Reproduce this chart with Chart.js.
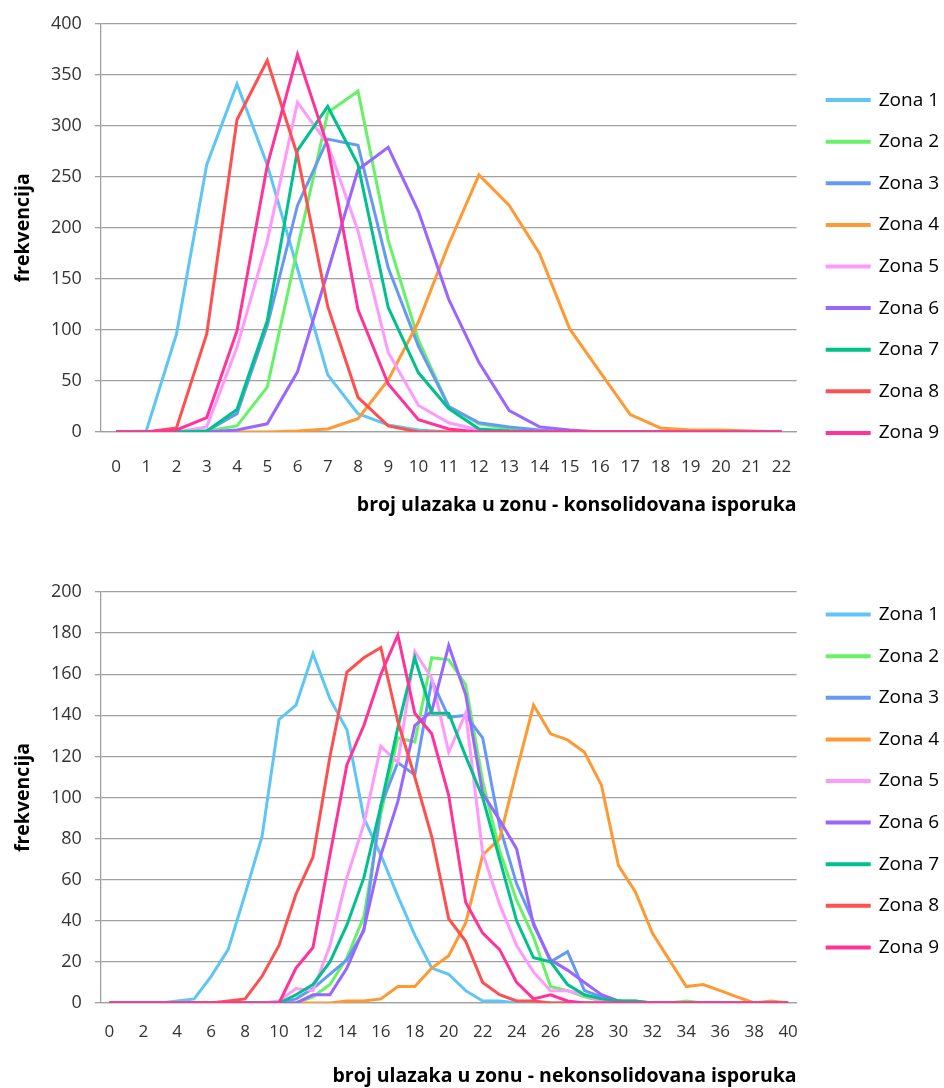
<!DOCTYPE html>
<html lang="sr">
<head>
<meta charset="utf-8">
<title>Frekvencija ulazaka u zone</title>
<script src="https://cdn.jsdelivr.net/npm/chart.js@4.4.1/dist/chart.umd.min.js"></script>
<style>
  html, body { margin: 0; padding: 0; background: #fff; }
  body { width: 944px; height: 1088px; position: relative; overflow: hidden; }
  .okvir { position: absolute; left: 0; width: 944px; }
  #okvirGore { top: 0; height: 533px; }
  #okvirDole { top: 560px; height: 528px; }
</style>
</head>
<body>
<div class="okvir" id="okvirGore"><canvas id="chartGore"></canvas></div>
<div class="okvir" id="okvirDole"><canvas id="chartDole"></canvas></div>
<script>
// Nazivi zona i boje linija
const nazivi = ['Zona 1', 'Zona 2', 'Zona 3', 'Zona 4', 'Zona 5', 'Zona 6', 'Zona 7', 'Zona 8', 'Zona 9'];
const boje = ['#5EC6F6', '#66F266', '#6699F5', '#FF9933', '#FF99FF', '#9966FF', '#00C08B', '#FF5050', '#FF3399'];

// Gornji grafikon - konsolidovana isporuka (0..22)
const kategorijeGore = [0, 1, 2, 3, 4, 5, 6, 7, 8, 9, 10, 11, 12, 13, 14, 15, 16, 17, 18, 19, 20, 21, 22];
const zona1Gore = [0, 1, 96, 262, 341, 262, 160, 56, 18, 7, 2, 0, 0, 0, 0, 0, 0, 0, 0, 0, 0, 0, 0];
const zona2Gore = [0, 0, 0, 1, 6, 44, 180, 313, 334, 188, 90, 25, 8, 3, 1, 0, 0, 0, 0, 0, 0, 0, 0];
const zona3Gore = [0, 0, 0, 1, 18, 104, 222, 287, 281, 161, 84, 25, 9, 5, 2, 0, 0, 0, 0, 0, 0, 0, 0];
const zona4Gore = [0, 0, 0, 0, 0, 0, 1, 3, 13, 51, 108, 184, 252, 222, 175, 101, 59, 17, 4, 2, 2, 1, 0];
const zona5Gore = [0, 0, 0, 5, 83, 187, 323, 282, 197, 78, 26, 9, 2, 0, 0, 0, 0, 0, 0, 0, 0, 0, 0];
const zona6Gore = [0, 0, 0, 0, 2, 8, 59, 157, 257, 279, 216, 130, 68, 21, 5, 2, 0, 0, 0, 0, 0, 0, 0];
const zona7Gore = [0, 0, 0, 1, 22, 109, 276, 319, 262, 122, 58, 23, 3, 1, 0, 0, 0, 0, 0, 0, 0, 0, 0];
const zona8Gore = [0, 0, 4, 96, 306, 364, 271, 123, 34, 6, 0, 0, 0, 0, 0, 0, 0, 0, 0, 0, 0, 0, 0];
const zona9Gore = [0, 0, 2, 14, 99, 261, 370, 280, 120, 47, 12, 3, 0, 0, 0, 0, 0, 0, 0, 0, 0, 0, 0];

// Donji grafikon - nekonsolidovana isporuka (0..40)
const kategorijeDole = [0, 1, 2, 3, 4, 5, 6, 7, 8, 9, 10, 11, 12, 13, 14, 15, 16, 17, 18, 19, 20,
  21, 22, 23, 24, 25, 26, 27, 28, 29, 30, 31, 32, 33, 34, 35, 36, 37, 38, 39, 40];
const zona1Dole = [0, 0, 0, 0, 1, 2, 13, 26, 53, 81, 138, 145, 170, 148, 133, 90, 72, 52, 33, 17, 14,
  6, 1, 1, 0, 0, 0, 0, 0, 0, 0, 0, 0, 0, 0, 0, 0, 0, 0, 0, 0];
const zona2Dole = [0, 0, 0, 0, 0, 0, 0, 0, 0, 0, 0, 0, 3, 9, 22, 42, 92, 129, 127, 168, 167,
  155, 108, 74, 50, 32, 8, 6, 3, 1, 1, 1, 0, 0, 1, 0, 0, 0, 0, 0, 0];
const zona3Dole = [0, 0, 0, 0, 0, 0, 0, 0, 0, 0, 0, 2, 7, 14, 21, 35, 96, 117, 111, 157, 139,
  140, 129, 86, 58, 39, 20, 25, 6, 3, 1, 0, 0, 0, 0, 0, 0, 0, 0, 0, 0];
const zona4Dole = [0, 0, 0, 0, 0, 0, 0, 0, 0, 0, 0, 0, 0, 0, 1, 1, 2, 8, 8, 17, 23,
  39, 72, 80, 113, 145, 131, 128, 122, 106, 67, 54, 34, 21, 8, 9, 6, 3, 0, 1, 0];
const zona5Dole = [0, 0, 0, 0, 0, 0, 0, 0, 0, 0, 1, 7, 6, 28, 61, 87, 125, 117, 171, 158, 122,
  141, 73, 48, 28, 15, 6, 6, 4, 1, 0, 0, 0, 0, 0, 0, 0, 0, 0, 0, 0];
const zona6Dole = [0, 0, 0, 0, 0, 0, 0, 0, 0, 0, 0, 0, 4, 4, 17, 36, 72, 98, 135, 142, 174,
  150, 102, 89, 75, 38, 21, 16, 10, 4, 1, 0, 0, 0, 0, 0, 0, 0, 0, 0, 0];
const zona7Dole = [0, 0, 0, 0, 0, 0, 0, 0, 0, 0, 0, 4, 9, 20, 38, 61, 96, 134, 168, 141, 141,
  120, 100, 70, 40, 22, 20, 9, 4, 2, 1, 1, 0, 0, 0, 0, 0, 0, 0, 0, 0];
const zona8Dole = [0, 0, 0, 0, 0, 0, 0, 1, 2, 13, 28, 53, 71, 120, 161, 168, 173, 137, 110, 81, 41,
  30, 10, 4, 1, 1, 0, 0, 0, 0, 0, 0, 0, 0, 0, 0, 0, 0, 0, 0, 0];
const zona9Dole = [0, 0, 0, 0, 0, 0, 0, 0, 0, 0, 0, 17, 27, 72, 116, 135, 160, 179, 141, 131, 101,
  49, 34, 26, 10, 2, 4, 1, 0, 0, 0, 0, 0, 0, 0, 0, 0, 0, 0, 0, 0];

const FONT = '"Open Sans", "Liberation Sans", sans-serif';
const SIVA = '#a0a0a0';

// pomjera legendu nakon rasporeda (kao u Excelu legenda nije u sredini grafikona)
const pomakLegende = {
  id: 'pomakLegende',
  afterLayout(chart, args, opts) {
    const lg = chart.legend;
    if (!lg) return;
    lg.left += opts.dx || 0;
    lg.right += opts.dx || 0;
    lg.top += opts.dy || 0;
    lg.bottom += opts.dy || 0;
  }
};

function napraviSerije(podaci) {
  return nazivi.map((naziv, i) => ({
    label: naziv,
    data: podaci[i],
    borderColor: boje[i],
    backgroundColor: boje[i],
    borderWidth: 3,
    pointRadius: 0,
    pointHoverRadius: 0,
    tension: 0,
    order: nazivi.length - i
  }));
}

function napraviGrafikon(id, cfg) {
  return new Chart(document.getElementById(id), {
    type: 'line',
    data: {
      labels: cfg.kategorije,
      datasets: napraviSerije(cfg.serije)
    },
    options: {
      responsive: true,
      maintainAspectRatio: false,
      animation: false,
      layout: { padding: cfg.padding },
      plugins: {
        tooltip: { enabled: false },
        pomakLegende: cfg.pomak,
        legend: {
          position: 'right',
          align: 'center',
          labels: {
            boxWidth: 42,
            boxHeight: 1,
            padding: 22.6,
            color: '#000',
            font: { family: FONT, size: 19 },
            sort: (a, b) => a.datasetIndex - b.datasetIndex
          }
        }
      },
      scales: {
        x: {
          offset: true,
          grid: { display: false, drawTicks: false },
          border: { display: true, color: SIVA, width: 1.3 },
          ticks: {
            autoSkip: false,
            maxRotation: 0,
            padding: cfg.xPadding,
            color: '#333',
            font: { family: FONT, size: 17 },
            callback: (v, i) => (i % cfg.korak === 0 ? cfg.kategorije[i] : '')
          },
          title: {
            display: true,
            text: cfg.xNaslov,
            align: 'end',
            color: '#000',
            font: { family: FONT, size: 19.5, weight: 'bold' },
            padding: cfg.xNaslovPadding
          }
        },
        y: {
          min: 0,
          max: cfg.yMax,
          grid: { color: SIVA, lineWidth: 1.3, tickLength: 6, drawTicks: true },
          border: { display: true, color: SIVA, width: 1.3 },
          ticks: {
            stepSize: cfg.yKorak,
            padding: 13,
            color: '#333',
            font: { family: FONT, size: 18 }
          },
          title: {
            display: true,
            text: 'frekvencija',
            color: '#000',
            font: { family: FONT, size: 19.5, weight: 'bold' },
            padding: { top: 12, bottom: 2.6 }
          }
        }
      }
    },
    plugins: [pomakLegende]
  });
}

document.addEventListener('DOMContentLoaded', () => {
  napraviGrafikon('chartGore', {
    kategorije: kategorijeGore,
    serije: [zona1Gore, zona2Gore, zona3Gore, zona4Gore, zona5Gore, zona6Gore, zona7Gore, zona8Gore, zona9Gore],
    yMax: 400,
    yKorak: 50,
    korak: 1,
    xPadding: 25,
    xNaslov: 'broj ulazaka u zonu - konsolidovana isporuka',
    xNaslovPadding: { top: -9.1, bottom: 16.3 },
    padding: { top: 16, right: 3 },
    pomak: { dx: 8, dy: -8 }
  });

  napraviGrafikon('chartDole', {
    kategorije: kategorijeDole,
    serije: [zona1Dole, zona2Dole, zona3Dole, zona4Dole, zona5Dole, zona6Dole, zona7Dole, zona8Dole, zona9Dole],
    yMax: 200,
    yKorak: 20,
    korak: 2,
    xPadding: 19,
    xNaslov: 'broj ulazaka u zonu - nekonsolidovana isporuka',
    xNaslovPadding: { top: 3.2, bottom: 0 },
    padding: { top: 32, right: 3 },
    pomak: { dx: 8, dy: -59 }
  });
});
</script>
</body>
</html>
